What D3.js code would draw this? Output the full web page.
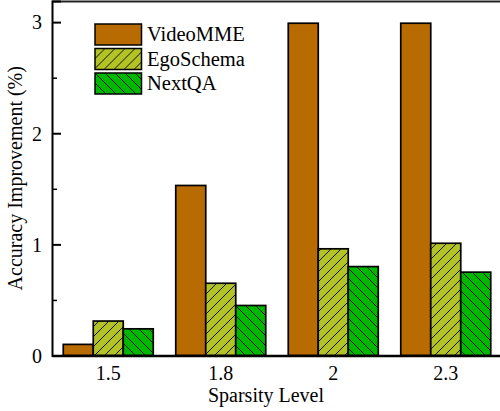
<!DOCTYPE html>
<html><head><meta charset="utf-8">
<script src="https://cdn.jsdelivr.net/npm/d3@7"></script>
<style>body{margin:0;background:#fff}svg{display:block}text{font-family:"Liberation Serif","Times New Roman",serif}</style>
</head><body>
<script>
const categories = ["1.5","1.8","2","2.3"];
const seriesNames = ["VideoMME","EgoSchema","NextQA"];
const videoMME = [0.10, 1.53, 2.99, 2.99];
const egoSchema = [0.31, 0.65, 0.96, 1.01];
const nextQA = [0.24, 0.45, 0.80, 0.75];
const yTicks = [0,1,2,3];
const yMinorTicks = [0.5,1.5,2.5];
const colors = ["#B86B00","#B3C225","#00B800"];
const hatch = [null,"fwd","back"];

const W=500,H=411;
const m={l:52,r:-2,t:1,b:55.5};
const svg=d3.select("body").append("svg").attr("width",W).attr("height",H);
const defs=svg.append("defs");
const hs=10;
colors.forEach((c,i)=>{
  if(!hatch[i]) return;
  const p=defs.append("pattern").attr("id","h"+i).attr("patternUnits","userSpaceOnUse").attr("width",hs).attr("height",hs);
  p.append("rect").attr("width",hs).attr("height",hs).attr("fill",c);
  if(hatch[i]==="fwd"){
    p.append("path").attr("d",`M-1,${hs+1} L${hs+1},-1 M-3,3 L3,-3 M${hs-3},${hs+3} L${hs+3},${hs-3}`).attr("stroke","#000").attr("stroke-width",0.9);
  } else {
    p.append("path").attr("d",`M-1,-1 L${hs+1},${hs+1} M-3,${hs-3} L3,${hs+3} M${hs-3},-3 L${hs+3},3`).attr("stroke","#000").attr("stroke-width",0.9);
  }
});
const fill=i=>hatch[i]?`url(#h${i})`:colors[i];

const x=d3.scaleBand().domain(categories).range([m.l,W-m.r]).paddingInner(0.2).paddingOuter(0.1);
const x1=d3.scaleBand().domain(seriesNames).range([0,x.bandwidth()]);
const y=d3.scaleLinear().domain([0,3.19]).range([H-m.b,m.t]);

const data=[videoMME,egoSchema,nextQA];
const g=svg.append("g");
seriesNames.forEach((s,si)=>{
  g.selectAll(".b"+si).data(categories).join("rect")
   .attr("x",c=>x(c)+x1(s)).attr("width",x1.bandwidth())
   .attr("y",(c,ci)=>y(data[si][ci])).attr("height",(c,ci)=>y(0)-y(data[si][ci]))
   .attr("fill",fill(si)).attr("stroke","#000").attr("stroke-width",1.7);
});

// frame top
svg.append("line").attr("x1",m.l).attr("x2",W).attr("y1",m.t+0.5).attr("y2",m.t+0.5).attr("stroke","#222").attr("stroke-width",2);

// y axis
const ya=svg.append("g").attr("transform",`translate(${m.l},0)`)
  .call(d3.axisRight(y).tickValues(yTicks).tickFormat(d3.format("d")).tickSize(9));
ya.select(".domain").attr("stroke","#000").attr("stroke-width",2);
ya.selectAll(".tick line").attr("stroke","#000").attr("stroke-width",2);
ya.selectAll("text").attr("font-size",20).attr("fill","#000").attr("text-anchor","end").attr("x",-10).attr("dy","0.34em");
const ym=svg.append("g").attr("transform",`translate(${m.l},0)`)
  .call(d3.axisRight(y).tickValues(yMinorTicks).tickFormat("").tickSize(5));
ym.select(".domain").remove();
ym.selectAll(".tick line").attr("stroke","#000").attr("stroke-width",1.5);

// x axis
const xa=svg.append("g").attr("transform",`translate(0,${H-m.b})`)
  .call(d3.axisBottom(x).tickSize(0).tickPadding(10));
xa.select(".domain").attr("stroke","#000").attr("stroke-width",2.5);
xa.selectAll("text").attr("font-size",20).attr("fill","#000").attr("dy","0.71em");

svg.append("text").attr("x",(m.l+W)/2 - 10).attr("y",402).attr("text-anchor","middle").attr("font-size",20).text("Sparsity Level");
svg.append("text").attr("transform",`translate(22,${(m.t+H-m.b)/2}) rotate(-90)`).attr("text-anchor","middle").attr("font-size",20).text("Accuracy Improvement (%)");

// legend
const lg=svg.append("g").attr("transform","translate(95,24)");
seriesNames.forEach((s,i)=>{
  const r=lg.append("g").attr("transform",`translate(0,${i*24.5})`);
  r.append("rect").attr("width",46.5).attr("height",21).attr("fill",fill(i)).attr("stroke","#000").attr("stroke-width",1.5);
  r.append("text").attr("x",52).attr("y",17).attr("font-size",20.5).text(s);
});
</script>
</body></html>
